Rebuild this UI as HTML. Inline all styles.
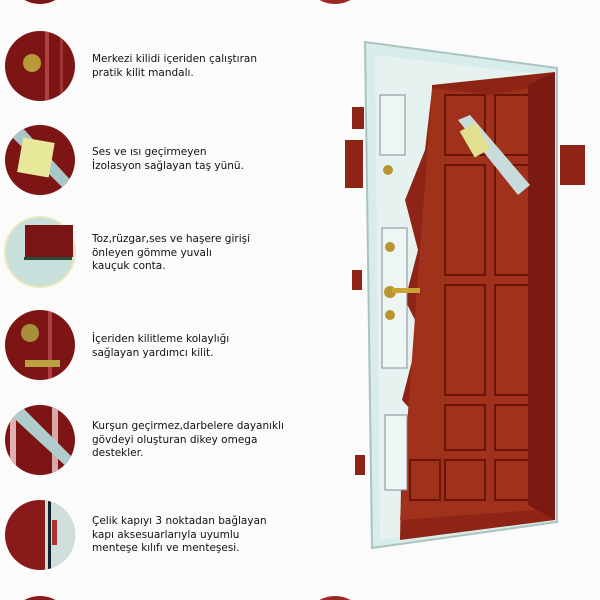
<!DOCTYPE html>
<html style="overflow:hidden;height:600px"><head><meta charset="utf-8"><style>
body{margin:0;width:600px;height:600px;background:#fbfbfb;overflow:hidden;position:relative;font-family:"DejaVu Sans","Liberation Sans",sans-serif}
.t{position:absolute;left:92px;font-size:10.5px;line-height:13.5px;color:#111}
</style></head><body>
<svg width="600" height="600" viewBox="0 0 600 600" style="position:absolute;left:0;top:0;display:block">
<defs>
<clipPath id="c1"><circle cx="40" cy="66" r="35"/></clipPath>
<clipPath id="c2"><circle cx="40" cy="160" r="35"/></clipPath>
<clipPath id="c4"><circle cx="40" cy="345" r="35"/></clipPath>
<clipPath id="c5"><circle cx="40" cy="440" r="35"/></clipPath>
<clipPath id="c6"><circle cx="40" cy="535" r="35"/></clipPath>
</defs>
<path d="M24.5,0 A32,32 0 0 0 55.5,0 Z" fill="#7a1515"/>
<path d="M319.5,0 A32,32 0 0 0 350.5,0 Z" fill="#9a2a22"/>
<path d="M24.5,600 A32,32 0 0 1 55.5,600 Z" fill="#8a1a1a"/>
<path d="M319.5,600 A32,32 0 0 1 350.5,600 Z" fill="#9a2a22"/>
<circle cx="40" cy="66" r="35" fill="#7d1515"/>
<g clip-path="url(#c1)"><rect x="45" y="31" width="4" height="70" fill="#b04040"/><rect x="60" y="31" width="3" height="70" fill="#a03535"/><circle cx="32" cy="63" r="9" fill="#b99a3a"/></g>
<circle cx="40" cy="160" r="35" fill="#7d1515"/>
<g clip-path="url(#c2)"><polygon points="5,130 20,125 75,185 70,195" fill="#a8c8c8"/><rect x="20" y="140" width="32" height="35" fill="#e8e89a" transform="rotate(10 36 157)"/></g>
<circle cx="40" cy="252" r="35" fill="#c8e0dc" stroke="#e8e8c0" stroke-width="2"/>
<rect x="25" y="225" width="48" height="32" fill="#7a1515"/><rect x="24" y="257" width="48" height="3" fill="#2a4a3a"/>
<circle cx="40" cy="345" r="35" fill="#7d1515"/>
<g clip-path="url(#c4)"><rect x="48" y="310" width="4" height="70" fill="#b04040"/><circle cx="30" cy="333" r="9" fill="#a8903a"/><rect x="25" y="360" width="35" height="7" fill="#b9a040"/></g>
<circle cx="40" cy="440" r="35" fill="#7d1515"/>
<g clip-path="url(#c5)"><rect x="10" y="405" width="6" height="70" fill="#e0b0b0"/><rect x="52" y="405" width="6" height="70" fill="#d8a8a8"/><polygon points="5,410 20,405 75,460 70,470" fill="#b0cccc"/></g>
<circle cx="40" cy="535" r="35" fill="#8a1a1a"/>
<g clip-path="url(#c6)"><rect x="45" y="500" width="30" height="70" fill="#cfe0dc"/><rect x="48" y="500" width="3" height="70" fill="#123"/><rect x="52" y="520" width="5" height="25" fill="#b03030"/></g>
<polygon points="365,42 557,68 557,522 372,548" fill="#d8ecea" stroke="#a9c4c0" stroke-width="2"/>
<polygon points="375,55 548,75 548,512 380,540" fill="#e6f2f0"/>
<polygon points="432,85 555,72 555,520 400,540 402,440 420,420 402,400 420,330 405,300 418,250 405,200 425,150 432,90" fill="#8e2415"/>
<polygon points="432,88 490,95 545,85 535,510 400,520" fill="#a0321c"/>
<g fill="none" stroke="#6a1508" stroke-width="2">
<rect x="445" y="95" width="40" height="60"/><rect x="495" y="95" width="40" height="60"/>
<rect x="445" y="165" width="40" height="110"/><rect x="495" y="165" width="40" height="110"/>
<rect x="445" y="285" width="40" height="110"/><rect x="495" y="285" width="40" height="110"/>
<rect x="445" y="405" width="40" height="45"/><rect x="495" y="405" width="40" height="45"/>
<rect x="410" y="460" width="30" height="40"/><rect x="445" y="460" width="40" height="40"/><rect x="495" y="460" width="40" height="40"/>
</g>
<polygon points="528,85 555,72 555,520 528,505" fill="#7a1a10"/>
<polygon points="458,120 470,115 530,185 518,195" fill="#c8dcdc"/>
<rect x="466" y="125" width="18" height="30" fill="#e0e090" transform="rotate(-30 475 140)"/>
<rect x="380" y="95" width="25" height="60" fill="#eef6f4" stroke="#889"/><rect x="382" y="228" width="25" height="140" fill="#eef6f4" stroke="#889"/><rect x="385" y="415" width="22" height="75" fill="#eef6f4" stroke="#889"/>
<circle cx="388" cy="170" r="5" fill="#b89530"/><circle cx="390" cy="247" r="5" fill="#b89530"/><circle cx="390" cy="292" r="6" fill="#b89530"/><rect x="392" y="288" width="28" height="5" fill="#c9a535"/><circle cx="390" cy="315" r="5" fill="#b89530"/>
<rect x="345" y="140" width="18" height="48" fill="#8e2415"/><rect x="560" y="145" width="25" height="40" fill="#8e2415"/>
<rect x="352" y="107" width="12" height="22" fill="#8e2415"/><rect x="352" y="270" width="10" height="20" fill="#8e2415"/><rect x="355" y="455" width="10" height="20" fill="#8e2415"/>
</svg>
<div class="t" style="top:53px">Merkezi kilidi içeriden çalıştıran<br>pratik kilit mandalı.</div>
<div class="t" style="top:146px">Ses ve ısı geçirmeyen<br>İzolasyon sağlayan taş yünü.</div>
<div class="t" style="top:233px">Toz,rüzgar,ses ve haşere girişi<br>önleyen gömme yuvalı<br>kauçuk conta.</div>
<div class="t" style="top:333px">İçeriden kilitleme kolaylığı<br>sağlayan yardımcı kilit.</div>
<div class="t" style="top:420px">Kurşun geçirmez,darbelere dayanıklı<br>gövdeyi oluşturan dikey omega<br>destekler.</div>
<div class="t" style="top:515px">Çelik kapıyı 3 noktadan bağlayan<br>kapı aksesuarlarıyla uyumlu<br>menteşe kılıfı ve menteşesi.</div>
</body></html>
